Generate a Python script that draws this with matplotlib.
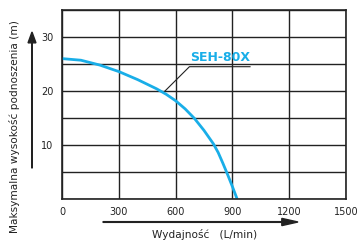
import matplotlib
matplotlib.use("Agg")
import matplotlib.pyplot as plt
import matplotlib.patches as mpatches
import numpy as np

flow = [0, 100, 200, 300, 400, 500, 550, 600, 650, 700, 750, 800, 825, 850, 875, 900, 925]
head = [26.0, 25.7, 24.8, 23.6, 22.1, 20.4, 19.4, 18.2, 16.7, 14.9, 12.7, 10.2, 8.6, 6.6, 4.5, 2.3, 0.0]
xticks = [0, 300, 600, 900, 1200, 1500]
yticks = [10, 20, 30]
series_name = "SEH-80X"

cyan = "#19aee8"
dark = "#222222"
fig = plt.figure(figsize=(3.6, 2.41), dpi=100)
ax = fig.add_axes([62/360, 1 - 199/241, (346-62)/360, (199-10)/241])

ax.plot(flow, head, color=cyan, lw=2.0, solid_joinstyle="round", solid_capstyle="butt")

ax.set_xlim(0, 1500)
ax.set_ylim(0, 35)
ax.set_xticks(np.arange(0, 1501, 300))
ax.set_yticks(np.arange(0, 36, 5))
ax.set_xticklabels([str(v) for v in xticks])
ax.set_yticklabels(["" if v not in yticks else str(v) for v in np.arange(0, 36, 5)])
ax.grid(True, color=dark, lw=1.0)
ax.tick_params(length=0, labelsize=7, pad=6, colors=dark)
for s in ax.spines.values():
    s.set_color(dark)
    s.set_linewidth(1.2)

# annotation
ax.plot([544, 673, 993], [20.0, 24.5, 24.5], color=dark, lw=0.8, clip_on=False)
ax.text(678, 25.0, series_name, color=cyan, fontsize=9, fontweight="bold",
        ha="left", va="bottom")

# axis labels & arrows
fig.text(15/360, 1 - 127/241, "Maksymalna wysokość podnoszenia (m)", rotation=90,
         ha="center", va="center", fontsize=7.6, color=dark)
fig.patches.append(mpatches.FancyArrow(
    32/360, 1 - 168/241, 0, (168-32)/241, width=0.0015, head_width=0.022,
    head_length=0.045, length_includes_head=True, color=dark,
    transform=fig.transFigure, figure=fig))
fig.patches.append(mpatches.FancyArrow(
    103/360, 1 - 222/241, (298-103)/360, 0, width=0.003, head_width=0.03,
    head_length=0.045, length_includes_head=True, color=dark,
    transform=fig.transFigure, figure=fig))
fig.text(205/360, 1 - 234/241, "Wydajność   (L/min)", ha="center", va="center",
         fontsize=7.6, color=dark)

fig.savefig("out.png", dpi=100)
